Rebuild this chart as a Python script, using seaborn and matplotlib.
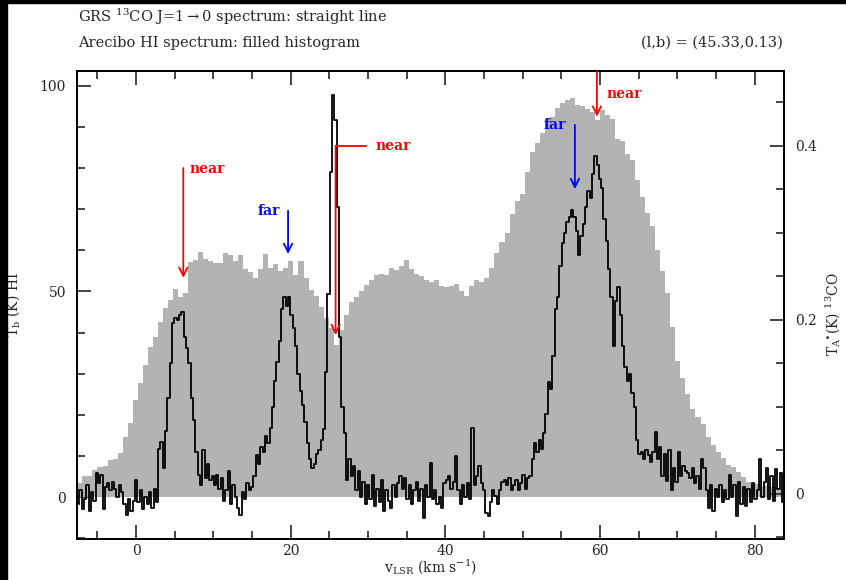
import numpy as np
import pandas as pd
import matplotlib
matplotlib.use("Agg")
import matplotlib.pyplot as plt
from matplotlib.patches import Rectangle
from matplotlib.ticker import MultipleLocator
import seaborn as sns

# Arecibo HI brightness temperature (K), channels of 0.65 km/s starting at -7.6 km/s
hi_v_start = -7.6
hi_dv = 0.65
hi_tb = [
    3.4, 5.0, 5.2, 6.5, 7.3, 7.5, 9.0, 9.2, 10.7, 14.7,
    18.0, 23.6, 27.7, 32.0, 36.5, 39.0, 42.6, 46.0, 48.0, 50.6,
    48.7, 49.5, 57.2, 57.7, 59.6, 58.0, 57.4, 56.8, 57.0, 59.3,
    58.9, 57.5, 58.8, 55.5, 54.8, 53.3, 55.5, 59.2, 55.6, 56.7,
    55.0, 55.8, 57.4, 54.0, 57.4, 53.2, 50.4, 49.0, 46.3, 43.5,
    41.0, 37.0, 40.6, 44.3, 47.4, 48.7, 50.0, 51.5, 52.8, 54.0,
    54.2, 54.0, 55.7, 55.3, 56.2, 57.7, 55.5, 54.3, 53.8, 52.8,
    52.3, 52.7, 51.3, 51.0, 51.2, 51.8, 50.0, 49.0, 51.3, 52.7,
    52.4, 53.2, 55.7, 59.4, 62.0, 64.3, 68.9, 72.0, 73.7, 79.0,
    84.0, 86.0, 88.5, 92.2, 92.5, 94.5, 95.7, 96.6, 97.0, 95.4,
    95.0, 94.3, 93.7, 91.7, 94.0, 93.0, 92.0, 87.0, 86.5, 83.4,
    82.0, 77.0, 73.0, 69.0, 66.0, 60.0, 55.0, 49.5, 41.4, 33.0,
    29.0, 25.0, 21.5, 19.5, 17.8, 14.6, 12.6, 11.0, 9.5, 7.8,
    7.4, 6.2, 4.9, 3.6, 3.4, 3.2, 2.6, 2.6, 2.4, 2.2, 2.2,
]

# GRS 13CO antenna temperature (K), channels of 0.3 km/s starting at -7.5 km/s
co_v_start = -7.5
co_dv = 0.3
co_ta = [
    -0.012, 0.004, -0.018, -0.006, 0.010, -0.020, 0.002, -0.008, 0.024, 0.012,
    0.022, -0.018, 0.008, 0.012, 0.004, 0.014, 0.006, -0.004, 0.010, 0.002,
    -0.012, -0.024, -0.006, -0.020, -0.008, 0.016, -0.010, 0.004, -0.018, -0.004,
    -0.012, 0.002, -0.016, 0.006, -0.010, 0.052, 0.060, 0.030, 0.072, 0.110,
    0.150, 0.196, 0.202, 0.200, 0.206, 0.209, 0.180, 0.168, 0.150, 0.110,
    0.085, 0.048, 0.022, 0.010, 0.050, 0.018, 0.034, 0.016, 0.020, 0.010,
    0.022, 0.006, 0.018, -0.008, 0.004, 0.026, -0.012, 0.010, -0.004, -0.016,
    -0.024, 0.002, -0.006, 0.012, 0.004, 0.008, 0.020, 0.045, 0.034, 0.054,
    0.048, 0.066, 0.058, 0.076, 0.100, 0.130, 0.152, 0.176, 0.212, 0.226,
    0.216, 0.226, 0.205, 0.190, 0.170, 0.138, 0.118, 0.102, 0.082, 0.058,
    0.040, 0.030, 0.034, 0.046, 0.050, 0.062, 0.075, 0.140, 0.230, 0.370,
    0.458, 0.430, 0.330, 0.180, 0.100, 0.070, 0.016, 0.040, 0.020, 0.032,
    0.004, 0.026, -0.004, 0.014, -0.012, 0.010, -0.006, 0.022, -0.014, 0.006,
    -0.010, 0.016, -0.020, 0.004, -0.008, -0.016, 0.010, -0.004, 0.012, 0.020,
    0.006, 0.018, -0.006, 0.010, -0.012, 0.004, 0.014, -0.008, 0.006, -0.028,
    0.010, -0.004, 0.035, -0.006, 0.004, -0.012, -0.004, -0.016, 0.012, 0.016,
    0.020, 0.006, 0.014, 0.043, 0.004, -0.012, 0.010, -0.004, 0.012, -0.006,
    0.076, 0.010, 0.020, 0.032, 0.012, 0.004, -0.022, -0.026, -0.010, 0.004,
    -0.002, -0.012, 0.004, 0.014, 0.016, 0.010, 0.018, 0.004, 0.010, 0.016,
    0.004, 0.012, 0.022, 0.006, 0.018, 0.020, 0.040, 0.058, 0.048, 0.062,
    0.052, 0.070, 0.092, 0.128, 0.120, 0.158, 0.212, 0.226, 0.262, 0.288,
    0.300, 0.312, 0.318, 0.326, 0.318, 0.302, 0.275, 0.296, 0.310, 0.330,
    0.348, 0.340, 0.368, 0.388, 0.378, 0.362, 0.352, 0.316, 0.290, 0.258,
    0.226, 0.170, 0.222, 0.238, 0.205, 0.170, 0.146, 0.130, 0.138, 0.116,
    0.100, 0.062, 0.046, 0.048, 0.040, 0.050, 0.044, 0.036, 0.048, 0.071,
    0.040, 0.054, 0.020, 0.046, 0.015, 0.050, 0.004, 0.030, 0.014, 0.048,
    0.020, 0.032, 0.026, 0.024, 0.018, 0.030, 0.012, 0.020, 0.006, 0.040,
    0.030, 0.004, -0.016, 0.010, -0.020, 0.006, -0.004, 0.010, -0.010, 0.004,
    -0.006, 0.022, -0.004, 0.010, -0.026, 0.014, -0.012, 0.008, -0.014, 0.006,
    -0.010, 0.012, -0.006, 0.004, 0.040, -0.004, 0.014, 0.030, -0.006, 0.020,
    -0.008, 0.028, 0.006, 0.024, -0.010, 0.004, -0.006, 0.010, 0.000, 0.006,
]

# Kinematic distance markers: velocity, arrow top and tip (HI K scale), label
marker_v = [6.1, 19.65, 25.8, 56.75, 59.6]
marker_top = [80.0, 69.6, 85.4, 90.5, 103.4]
marker_tip = [53.3, 59.1, 39.4, 74.9, 92.5]
marker_label = ["near", "far", "near", "far", "near"]

title_line1 = r"GRS $^{13}$CO J=1$\rightarrow$0 spectrum: straight line"
title_line2 = "Arecibo HI spectrum: filled histogram"
position_label = "(l,b) = (45.33,0.13)"

sns.set_style("ticks", {"xtick.direction": "in", "ytick.direction": "in"})
plt.rcParams["font.family"] = ["DejaVu Serif"]
plt.rcParams["mathtext.fontset"] = "dejavuserif"

fig = plt.figure(figsize=(8.46, 5.80), dpi=100)
fig.patch.set_facecolor("white")
ax = fig.add_axes([77 / 846, 1 - 539 / 580, 707 / 846, 468 / 580])

# HI as a filled histogram
hi_edges = hi_v_start + hi_dv * np.arange(len(hi_tb) + 1)
ax.stairs(hi_tb, hi_edges, fill=True, color="#b3b3b3", linewidth=0)
ax.set_xlim(-7.65, 83.8)
ax.set_ylim(-10.2, 103.6)

# 13CO as a black stepped line on the right-hand scale
ax2 = ax.twinx()
co_df = pd.DataFrame({"v": co_v_start + co_dv * np.arange(len(co_ta)), "ta": co_ta})
sns.lineplot(data=co_df, x="v", y="ta", drawstyle="steps-mid", color="black",
             linewidth=1.3, estimator=None, ax=ax2)
ax2.set_ylim(-0.052, 0.486)
ax2.set_xlim(-7.65, 83.8)

# ticks
ax.xaxis.set_major_locator(MultipleLocator(20))
ax.xaxis.set_minor_locator(MultipleLocator(5))
ax.yaxis.set_minor_locator(MultipleLocator(10))
ax2.yaxis.set_minor_locator(MultipleLocator(0.05))
ax.set_yticks([0, 50, 100])
ax.set_yticklabels(["0", "50", "100"])
ax2.set_yticks([0, 0.2, 0.4])
ax2.set_yticklabels(["0", "0.2", "0.4"])
ax.tick_params(axis="x", which="both", direction="in", top=True, bottom=True,
               labelsize=10, pad=3.5, width=1.2)
ax.tick_params(axis="x", which="major", length=10)
ax.tick_params(axis="x", which="minor", length=6)
ax.tick_params(axis="y", which="both", direction="in", left=True, right=False,
               labelsize=10, pad=8, width=1.2)
ax.tick_params(axis="y", which="major", length=10)
ax.tick_params(axis="y", which="minor", length=6)
ax2.tick_params(axis="y", which="both", direction="in", right=True, left=False,
                labelsize=10, pad=8, width=1.2)
ax2.tick_params(axis="y", which="major", length=10)
ax2.tick_params(axis="y", which="minor", length=6)

for a in (ax, ax2):
    for s in a.spines.values():
        s.set_visible(True)
        s.set_linewidth(1.3)
        s.set_color("black")

ax.set_xlabel(r"v$_{\rm LSR}$ (km s$^{-1}$)", fontsize=10, labelpad=0)
ax.set_ylabel(r"T$_{\rm b}$ (K) HI", fontsize=10)
ax.yaxis.set_label_coords(-0.078, 0.5)
ax2.set_ylabel(r"T$_{\rm A}$$^{\bullet}$(K) $^{13}$CO", fontsize=10, rotation=90)
ax2.yaxis.set_label_coords(1.056, 0.48)

# near/far markers
for v, top, tip, lab in zip(marker_v, marker_top, marker_tip, marker_label):
    col = "#ff0000" if lab == "near" else "#0000ff"
    ax2.annotate("", xy=(v, tip), xycoords=ax.transData,
                 xytext=(v, top), textcoords=ax.transData,
                 arrowprops=dict(arrowstyle="->,head_width=0.3,head_length=0.6",
                                 color=col, lw=1.3, shrinkA=0, shrinkB=0))
    if lab == "far":
        ax2.text(v - 1.1, top, lab, color=col, fontsize=10, fontweight="bold",
                 ha="right", va="center", transform=ax.transData)

ax2.text(6.9, 79.8, "near", color="#ff0000", fontsize=10, fontweight="bold",
         ha="left", va="center", transform=ax.transData)
ax2.plot([25.8, 29.7], [85.4, 85.4], color="#ff0000", lw=1.3,
         transform=ax.transData)
ax2.text(30.9, 85.4, "near", color="#ff0000", fontsize=10, fontweight="bold",
         ha="left", va="center", transform=ax.transData)
ax2.text(60.8, 98.0, "near", color="#ff0000", fontsize=10, fontweight="bold",
         ha="left", va="center", transform=ax.transData)

# header text
fig.text(78 / 846, 1 - 17 / 580, title_line1, fontsize=10.5, ha="left", va="center")
fig.text(78 / 846, 1 - 43 / 580, title_line2, fontsize=10.5, ha="left", va="center")
fig.text(783 / 846, 1 - 43 / 580, position_label, fontsize=10.5, ha="right", va="center")

# dark frame strips on the left and top edges
fig.patches.append(Rectangle((0, 0), 7 / 846, 1, transform=fig.transFigure,
                             color="black", zorder=10))
fig.patches.append(Rectangle((0, 1 - 3 / 580), 1, 3 / 580, transform=fig.transFigure,
                             color="black", zorder=10))

fig.savefig("out.png", dpi=100, facecolor="white")
